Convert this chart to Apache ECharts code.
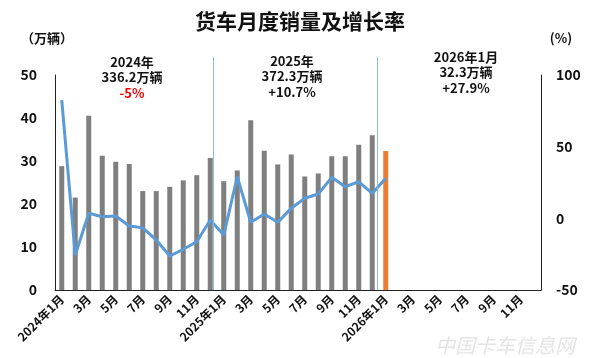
<!DOCTYPE html>
<html><head><meta charset="utf-8">
<script src="https://cdn.jsdelivr.net/npm/echarts@6/dist/echarts.min.js"></script>
<style>html,body{margin:0;padding:0;background:#fff}#c{width:600px;height:358px}</style>
</head><body><div id="c"></div>
<script>
const categories = ['2024年1月','2月','3月','4月','5月','6月','7月','8月','9月','10月','11月','12月',
  '2025年1月','2月','3月','4月','5月','6月','7月','8月','9月','10月','11月','12月',
  '2026年1月','2月','3月','4月','5月','6月','7月','8月','9月','10月','11月','12月'];
const sales = [28.8,21.5,40.5,31.2,29.8,29.3,23.0,23.0,24.0,25.5,26.7,30.7,
  25.3,27.8,39.5,32.4,29.2,31.5,26.4,27.1,31.1,31.1,33.8,36.0,
  32.3,null,null,null,null,null,null,null,null,null,null,null];
const growth = [82.5,-25.6,3.5,1.1,1.6,-5.4,-6.6,-15.1,-26.3,-21.6,-16.3,-1.2,
  -11.7,29.0,-2.8,3.0,-2.8,7.0,14.0,17.0,28.6,22.1,25.5,17.4,
  27.9,null,null,null,null,null,null,null,null,null,null,null];
const highlightIndex = 24;
const yearDividers = [11.7, 23.9];
const yearNotes = [
  {lines:['2024年','336.2万辆'], change:'-5%', negative:true},
  {lines:['2025年','372.3万辆'], change:'+10.7%', negative:false},
  {lines:['2026年1月','32.3万辆'], change:'+27.9%', negative:false}
];
const titleText = '货车月度销量及增长率';
const leftUnit = '（万辆）';
const rightUnit = '(%)';

const FONT = '"Noto Sans CJK SC","Noto Sans",sans-serif';
const chart = echarts.init(document.getElementById('c'), null, {renderer:'canvas'});

const barData = sales.map((v,i)=> i===highlightIndex ? {value:v, itemStyle:{color:'#ED7D31'}} : v);

const noteX = [132, 292, 466];
const noteY = [54, 53, 49];
const graphics = yearNotes.map((n,i)=>({
  type:'text', x:noteX[i], y:noteY[i], z:100,
  style:{
    text: n.lines.map(l=>'{a|'+l+'}').join('\n') + '\n{' + (n.negative?'r':'a') + '|' + n.change + '}',
    textAlign:'center',
    rich:{
      a:{fontSize:13, fontWeight:'bold', fill:'#111', fontFamily:FONT, lineHeight:15.5, align:'center'},
      r:{fontSize:13, fontWeight:'bold', fill:'#FF0000', fontFamily:FONT, lineHeight:15.5, align:'center'}
    }
  }
}));
graphics.push({type:'text', x:300, y:11, style:{text:titleText, textAlign:'center', fontSize:21, fontWeight:'bold', fill:'#111', fontFamily:FONT}});
graphics.push({type:'text', x:47, y:32, style:{text:leftUnit, textAlign:'center', fontSize:13, fontWeight:'bold', fill:'#111', fontFamily:FONT}});
graphics.push({type:'text', x:561, y:32, style:{text:rightUnit, textAlign:'center', fontSize:13, fontWeight:'bold', fill:'#111', fontFamily:FONT}});
graphics.push({type:'text', x:505, y:345, z:0, style:{text:'中国卡车信息网', textAlign:'center', textVerticalAlign:'middle', fontSize:20, fontStyle:'italic', fill:'rgba(205,205,205,0.55)', fontFamily:FONT}});

chart.setOption({
  animation:false,
  backgroundColor:'#fff',
  graphic: graphics,
  grid:[
    {left:55, right:59, top:75, bottom:68},
    {left:55, right:59, top:57, bottom:68}
  ],
  xAxis:[
    {type:'category', data:categories, gridIndex:0,
     axisLine:{lineStyle:{color:'#222', width:1}},
     axisTick:{show:false},
     axisLabel:{interval:1, rotate:45, fontSize:12, fontWeight:'bold', color:'#111', fontFamily:FONT, margin:7}},
    {type:'value', gridIndex:1, min:0, max:categories.length, show:false}
  ],
  yAxis:[
    {type:'value', gridIndex:0, min:0, max:50, interval:10,
     axisLine:{show:true, lineStyle:{color:'#222'}}, axisTick:{show:false}, splitLine:{show:false},
     axisLabel:{fontSize:14, fontWeight:'bold', color:'#111', fontFamily:FONT, margin:18}},
    {type:'value', gridIndex:0, min:-50, max:100, interval:50, position:'right',
     axisLine:{show:true, lineStyle:{color:'#222'}}, axisTick:{show:false}, splitLine:{show:false},
     axisLabel:{fontSize:14, fontWeight:'bold', color:'#111', fontFamily:FONT, margin:15}},
    {type:'value', gridIndex:1, min:0, max:1, show:false}
  ],
  series:[
    {type:'bar', data:barData, xAxisIndex:0, yAxisIndex:0, barWidth:5, itemStyle:{color:'#7F7F7F'}, z:2},
    {type:'line', data:growth, xAxisIndex:0, yAxisIndex:1, symbol:'none', lineStyle:{color:'#5B9BD5', width:3}, itemStyle:{color:'#5B9BD5'}, z:3},
    {type:'line', data:[], xAxisIndex:1, yAxisIndex:2, z:1,
     markLine:{silent:true, symbol:['none','none'], label:{show:false},
       lineStyle:{color:'#8DBBE6', width:1, type:'solid', opacity:1},
       data: yearDividers.map(x=>({xAxis:x}))}}
  ]
});
</script></body></html>
